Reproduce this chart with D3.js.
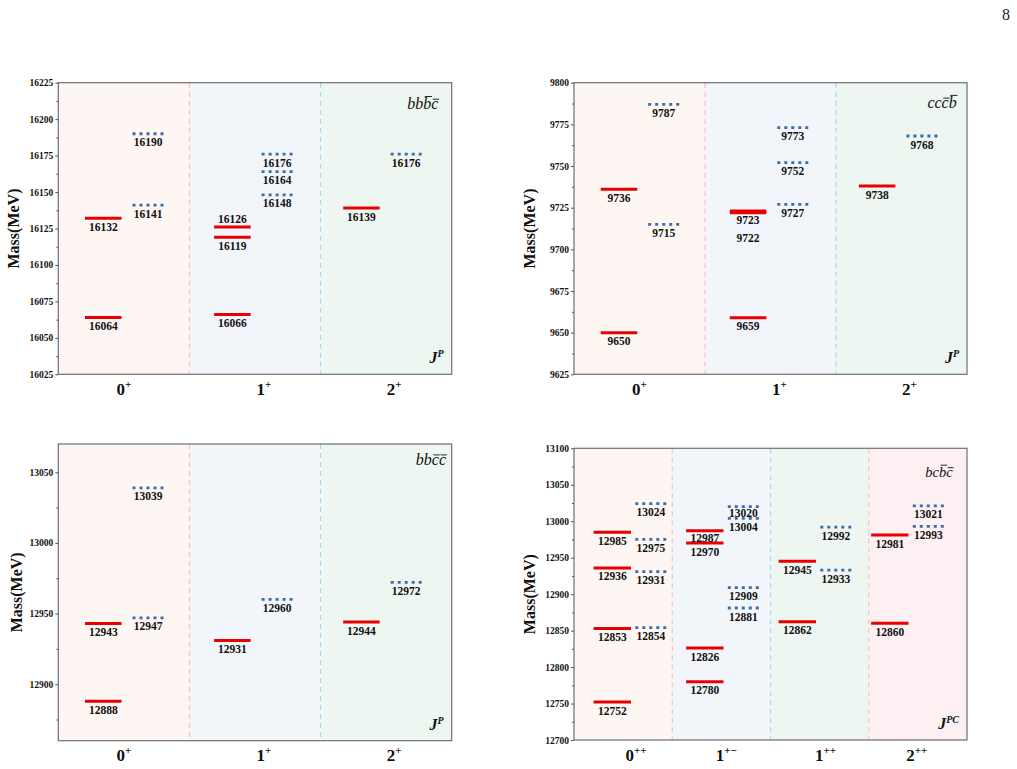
<!DOCTYPE html>
<html><head><meta charset="utf-8">
<script src="https://cdn.jsdelivr.net/npm/d3@7"></script>
<style>body{margin:0;background:#fff}svg{display:block}</style>
</head><body>
<svg id="c" width="1017" height="769"></svg>
<script>
// ---------------- data ----------------
const bbbcCats = ["0", "1", "2"];
const bbbcSup = ["+", "+", "+"];
const bbbcRed = [[16064, 16132], [16066, 16119, 16126], [16139]];
const bbbcBlue = [[16190, 16141], [16176, 16164, 16148], [16176]];
const bbbcTicks = [16025, 16050, 16075, 16100, 16125, 16150, 16175, 16200, 16225];
const bbbcDomain = [16025, 16225];

const cccbCats = ["0", "1", "2"];
const cccbSup = ["+", "+", "+"];
const cccbRed = [[9650, 9736], [9659, 9722, 9723], [9738]];
const cccbBlue = [[9787, 9715], [9773, 9752, 9727], [9768]];
const cccbTicks = [9625, 9650, 9675, 9700, 9725, 9750, 9775, 9800];
const cccbDomain = [9625, 9800];

const bbccCats = ["0", "1", "2"];
const bbccSup = ["+", "+", "+"];
const bbccRed = [[12888, 12943], [12931], [12944]];
const bbccBlue = [[13039, 12947], [12960], [12972]];
const bbccTicks = [12900, 12950, 13000, 13050];
const bbccDomain = [12860, 13070];

const bcbcCats = ["0", "1", "1", "2"];
const bcbcSup = ["++", "+\u2212", "++", "++"];
const bcbcRed = [[12752, 12853, 12936, 12985], [12780, 12826, 12970, 12987], [12862, 12945], [12860, 12981]];
const bcbcBlue = [[12854, 12931, 12975, 13024], [12881, 12909, 13004, 13020], [12933, 12992], [12993, 13021]];
const bcbcTicks = [12700, 12750, 12800, 12850, 12900, 12950, 13000, 13050, 13100];
const bcbcDomain = [12700, 13100];

// ---------------- layout / style ----------------
const SERIF = "'Liberation Serif','Times New Roman',Times,serif";
const RED = "#e80000", BLUE = "#3b6ea8";
const PINK = "#fdf6f3", LBLUE = "#f2f6fa", GREEN = "#edf6f0", ROSE = "#fcf0f2";
const DIV_P = "#f4c2c6", DIV_B = "#a6d8f2";

const panels = [
  { name: "bbbc", cats: bbbcCats, sup: bbbcSup, red: bbbcRed, blue: bbbcBlue, ticks: bbbcTicks, domain: bbbcDomain,
    x: 58.3, y: 82.7, w: 393.4, h: 291.6,
    tints: [PINK, LBLUE, GREEN], divs: [DIV_P, DIV_B],
    lvStart: 67.2, lvStep: 129.1, redOff: [-40.5, -4], blueOff: [7, 38],
    nudge: [0, 9, 8], titleBars: [2, 3], titleSize: 16, titleDx: 13.4, titleDy: 26.6, jp: "P", yTitleDx: 39 },
  { name: "cccb", cats: cccbCats, sup: cccbSup, red: cccbRed, blue: cccbBlue, ticks: cccbTicks, domain: cccbDomain,
    x: 574, y: 82.7, w: 393, h: 291.6,
    tints: [PINK, LBLUE, GREEN], divs: [DIV_P, DIV_B],
    lvStart: 67.2, lvStep: 129.1, redOff: [-40.5, -4], blueOff: [7, 38],
    nudge: [0, 9, 8], titleBars: [2, 3], titleSize: 16, titleDx: 10.3, titleDy: 25.5, jp: "P", yTitleDx: 39 },
  { name: "bbcc", cats: bbccCats, sup: bbccSup, red: bbccRed, blue: bbccBlue, ticks: bbccTicks, domain: bbccDomain,
    x: 58.3, y: 444, w: 393.4, h: 296.7,
    tints: [PINK, LBLUE, GREEN], divs: [DIV_P, DIV_B],
    lvStart: 67.2, lvStep: 129.1, redOff: [-40.5, -4], blueOff: [7, 38],
    nudge: [0, 9, 8], titleBars: [2, 3], titleSize: 16, titleDx: 5.7, titleDy: 21, jp: "P", yTitleDx: 36 },
  { name: "bcbc", cats: bcbcCats, sup: bcbcSup, red: bcbcRed, blue: bcbcBlue, ticks: bcbcTicks, domain: bcbcDomain,
    x: 574, y: 448.3, w: 393, h: 291.7,
    tints: [PINK, LBLUE, GREEN, ROSE], divs: [DIV_P, DIV_B, DIV_P],
    lvStart: 57.6, lvStep: 92.5, redOff: [-38, -0.6], blueOff: [3.7, 35],
    nudge: [13, 5, 6, -1], titleBars: [2, 3], titleSize: 14.5, titleDx: 14.3, titleDy: 28.5, jp: "PC", yTitleDx: 39 }
];

const titleText = { bbbc: "bbbc", cccb: "cccb", bbcc: "bbcc", bcbc: "bcbc" };
// label placement adjustments (px below the level line)
const labelDy = { "bbbc:red:16126": -4.5, "cccb:red:9722": 29, "bcbc:blue:13020": 10, "bcbc:red:12987": 11 };
const DEFAULT_DY = 12.5;

const svg = d3.select("#c");

// page number
svg.append("text").attr("x", 1010).attr("y", 20).attr("text-anchor", "end")
  .attr("font-family", SERIF).attr("font-size", 16).attr("fill", "#222").text("8");

panels.forEach(p => {
  const g = svg.append("g");
  const n = p.cats.length;
  const y = d3.scaleLinear().domain(p.domain).range([p.y + p.h, p.y]);
  const band = d3.scaleBand().domain(d3.range(n)).range([p.x, p.x + p.w]);
  const lx = d3.scaleLinear().domain([0, 1]).range([p.x + p.lvStart, p.x + p.lvStart + p.lvStep]);

  // region tints
  g.selectAll("rect.tint").data(p.cats).join("rect").attr("class", "tint")
    .attr("x", (d, i) => band(i)).attr("y", p.y)
    .attr("width", band.bandwidth()).attr("height", p.h)
    .attr("fill", (d, i) => p.tints[i]);

  // dividers
  g.selectAll("line.div").data(d3.range(1, n)).join("line").attr("class", "div")
    .attr("x1", i => band(i)).attr("x2", i => band(i))
    .attr("y1", p.y).attr("y2", p.y + p.h)
    .attr("stroke", i => p.divs[i - 1]).attr("stroke-width", 1.2)
    .attr("stroke-dasharray", "5,4");

  // levels
  const reds = p.red.flatMap((arr, i) => arr.map(v => ({ i, v, s: "red" })));
  const blues = p.blue.flatMap((arr, i) => arr.map(v => ({ i, v, s: "blue" })));

  g.selectAll("line.red").data(reds).join("line").attr("class", "red")
    .attr("x1", d => lx(d.i) + p.redOff[0]).attr("x2", d => lx(d.i) + p.redOff[1])
    .attr("y1", d => y(d.v)).attr("y2", d => y(d.v))
    .attr("stroke", RED).attr("stroke-width", 3);

  g.selectAll("line.blue").data(blues).join("line").attr("class", "blue")
    .attr("x1", d => lx(d.i) + p.blueOff[0]).attr("x2", d => lx(d.i) + p.blueOff[1])
    .attr("y1", d => y(d.v)).attr("y2", d => y(d.v))
    .attr("stroke", BLUE).attr("stroke-width", 2.8).attr("stroke-dasharray", "3,4");

  // value labels
  const all = reds.concat(blues);
  g.selectAll("text.val").data(all).join("text").attr("class", "val")
    .attr("x", d => {
      const off = d.s === "red" ? p.redOff : p.blueOff;
      return lx(d.i) + (off[0] + off[1]) / 2;
    })
    .attr("y", d => {
      const k = p.name + ":" + d.s + ":" + d.v;
      return y(d.v) + (k in labelDy ? labelDy[k] : DEFAULT_DY);
    })
    .attr("text-anchor", "middle").attr("font-family", SERIF).attr("font-weight", "bold")
    .attr("font-size", 11.5).attr("fill", "#111").text(d => d.v);

  // frame
  g.append("rect").attr("x", p.x).attr("y", p.y).attr("width", p.w).attr("height", p.h)
    .attr("fill", "none").attr("stroke", "#6f6f6f").attr("stroke-width", 1.2);

  // y axis major
  const ax = g.append("g").attr("transform", `translate(${p.x},0)`)
    .call(d3.axisLeft(y).tickValues(p.ticks).tickSize(3).tickPadding(2).tickFormat(d3.format("d")));
  ax.select(".domain").remove();
  ax.selectAll("line").attr("stroke", "#555");
  ax.selectAll("text").attr("font-family", SERIF).attr("font-weight", "bold")
    .attr("font-size", 9.5).attr("fill", "#111");

  // y axis minor
  const step = p.ticks[1] - p.ticks[0];
  const minors = [p.ticks[0] - step / 2].concat(p.ticks.map(t => t + step / 2))
    .filter(v => v > p.domain[0] && v < p.domain[1]);
  const axm = g.append("g").attr("transform", `translate(${p.x},0)`)
    .call(d3.axisLeft(y).tickValues(minors).tickSize(2).tickFormat(""));
  axm.select(".domain").remove();
  axm.selectAll("line").attr("stroke", "#555");

  // y title
  const cy = p.y + p.h / 2, tx = p.x - p.yTitleDx;
  g.append("text").attr("transform", `translate(${tx},${cy}) rotate(-90)`)
    .attr("text-anchor", "middle").attr("font-family", SERIF).attr("font-weight", "bold")
    .attr("font-size", 16).attr("fill", "#111").text("Mass(MeV)");

  // x category labels
  const xl = g.selectAll("text.cat").data(p.cats).join("text").attr("class", "cat")
    .attr("x", (d, i) => band(i) + band.bandwidth() / 2 + p.nudge[i])
    .attr("y", p.y + p.h + 20.5)
    .attr("text-anchor", "middle").attr("font-family", SERIF).attr("font-weight", "bold")
    .attr("font-size", 17).attr("fill", "#111");
  xl.append("tspan").text(d => d);
  xl.append("tspan").attr("font-size", 11).attr("dy", -7).text((d, i) => p.sup[i]);

  // title with overbars
  const tt = g.append("text").attr("x", p.x + p.w - p.titleDx).attr("y", p.y + p.titleDy)
    .attr("text-anchor", "end").attr("font-family", SERIF).attr("font-style", "italic")
    .attr("font-size", p.titleSize).attr("fill", "#111").text(titleText[p.name]);
  const node = tt.node();
  const base = p.y + p.titleDy;
  p.titleBars.forEach(ci => {
    const ch = titleText[p.name][ci];
    const ext = node.getExtentOfChar(ci);
    const by = ch === "b" ? base - p.titleSize * 0.80 : base - p.titleSize * 0.63;
    g.append("line").attr("x1", ext.x + 1.6).attr("x2", ext.x + ext.width + 0.8)
      .attr("y1", by).attr("y2", by).attr("stroke", "#111").attr("stroke-width", 0.9);
  });

  // J^P label
  const jt = g.append("text").attr("x", p.x + p.w - 8).attr("y", p.y + p.h - 11)
    .attr("text-anchor", "end").attr("font-family", SERIF).attr("font-weight", "bold")
    .attr("font-style", "italic").attr("fill", "#111");
  jt.append("tspan").attr("font-size", 16).text("J");
  jt.append("tspan").attr("font-size", 10).attr("dy", -6).text(p.jp);
});
</script>
</body></html>
